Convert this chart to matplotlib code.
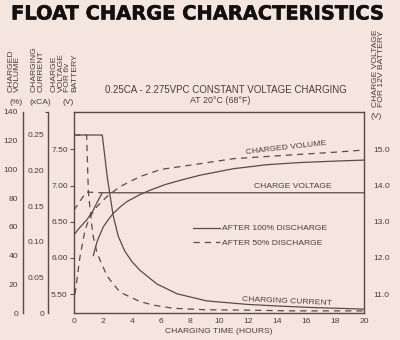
import matplotlib
matplotlib.use("Agg")
import matplotlib.pyplot as plt
import matplotlib.patheffects as pe
from matplotlib.lines import Line2D

# ---------------- data ----------------
hour_ticks = [0, 2, 4, 6, 8, 10, 12, 14, 16, 18, 20]
pct_ticks = [0, 20, 40, 60, 80, 100, 120, 140]
ca_ticks = [0, 0.05, 0.10, 0.15, 0.20, 0.25]
ca_labels = ["0", "0.05", "0.10", "0.15", "0.20", "0.25"]
v6_ticks = [5.5, 6.0, 6.5, 7.0, 7.5]
v6_labels = ["5.50", "6.00", "6.50", "7.00", "7.50"]
v12_ticks = [11.0, 12.0, 13.0, 14.0, 15.0]
v12_labels = ["11.0", "12.0", "13.0", "14.0", "15.0"]

# charging current (xCA)
t_cur_100 = [0, 1.95, 2.3, 2.7, 3.05, 3.5, 4.0, 4.55, 5.7, 7.1, 9.15, 12, 14.4, 16.7, 20]
cur_100 = [0.25, 0.25, 0.19, 0.137, 0.108, 0.087, 0.072, 0.06, 0.041, 0.027, 0.017, 0.012, 0.0095, 0.0075, 0.0055]
t_cur_50 = [0, 0.87, 0.99, 1.22, 1.33, 1.57, 1.8, 2.26, 2.5, 3.06, 3.4, 4.55, 5.5, 6.85, 9.15, 12, 15, 18, 20]
cur_50 = [0.25, 0.25, 0.17, 0.124, 0.107, 0.086, 0.074, 0.053, 0.046, 0.032, 0.027, 0.016, 0.011, 0.0066, 0.0045, 0.004, 0.003, 0.003, 0.003]

# charge voltage (V, 6V battery)
t_volt_100 = [0, 0.4, 0.9, 1.3, 1.6, 1.95, 20]
volt_100 = [6.32, 6.42, 6.53, 6.65, 6.77, 6.90, 6.90]
t_volt_50 = [0, 0.3, 0.6, 0.87, 1.95]
volt_50 = [6.66, 6.75, 6.84, 6.91, 6.90]

# charged volume (%)
t_vol_100 = [1.33, 1.6, 2.02, 2.4, 2.71, 3.2, 3.63, 4.55, 5.24, 6.3, 7.54, 8.7, 11, 13.3, 15.6, 18, 20]
vol_100 = [40, 50, 60, 65.5, 69.4, 74, 77.5, 82.5, 85.5, 89.5, 93, 96, 100.5, 103.3, 104.8, 105.8, 106.5]
t_vol_50 = [0.07, 0.41, 0.76, 1.1, 1.57, 2.26, 3.17, 4.55, 6.0, 8.7, 11, 13.3, 15.6, 18, 20]
vol_50 = [13, 39, 57.8, 67, 74, 81, 88, 95, 100, 104, 107.5, 109, 110.5, 112, 113.5]

# ---------------- style ----------------
BG = "#f4e6de"
LC = "#5a4a48"
TC = "#4a3c3a"
FONT = "Liberation Sans"
FS = 6.1
LW = 0.9
DASH = (0, (5, 4))

plt.rcParams["font.family"] = [FONT, "DejaVu Sans"]

fig = plt.figure(figsize=(4, 3.4), dpi=100, facecolor=BG)
ax = fig.add_axes([0.185, 0.0794, 0.725, 0.5912])
ax.set_facecolor(BG)
ax.set_xlim(0, 20)
ax.set_ylim(5.24, 8.015)
for s in ax.spines.values():
    s.set_color(LC)
    s.set_linewidth(1.0)
ax.set_xticks(hour_ticks)
ax.set_xticklabels([str(h) for h in hour_ticks], fontsize=FS, color=TC)
ax.tick_params(axis="x", length=0, pad=3.5)
ax.set_yticks(v6_ticks)
ax.set_yticklabels(v6_labels, fontsize=FS, color=TC)
ax.tick_params(axis="y", length=3, width=0.8, color=LC, pad=1.5, direction="out")
ax.set_xlabel("CHARGING TIME (HOURS)", fontsize=FS, color=TC, labelpad=2.5)

# percent axis
ax_pct = ax.twinx()
ax_pct.set_ylim(0, 140)
for k, s in ax_pct.spines.items():
    s.set_visible(False)
ax_pct.spines["left"].set_visible(True)
ax_pct.spines["left"].set_position(("axes", -0.176))
ax_pct.spines["left"].set_color(LC)
ax_pct.spines["left"].set_linewidth(1.0)
ax_pct.yaxis.set_ticks_position("left")
ax_pct.set_yticks(pct_ticks)
ax_pct.set_yticklabels([str(p) for p in pct_ticks], fontsize=FS, color=TC)
ax_pct.tick_params(axis="y", length=0, pad=3.5)
ax_pct.set_yticks([0, 140], minor=True)
ax_pct.tick_params(axis="y", which="minor", length=2.5, direction="in", color=LC, width=0.8)

# current axis
ax_ca = ax.twinx()
ax_ca.set_ylim(0, 0.2823)
for k, s in ax_ca.spines.items():
    s.set_visible(False)
ax_ca.spines["left"].set_visible(True)
ax_ca.spines["left"].set_position(("axes", -0.0897))
ax_ca.spines["left"].set_color(LC)
ax_ca.spines["left"].set_linewidth(1.0)
ax_ca.yaxis.set_ticks_position("left")
ax_ca.set_yticks(ca_ticks)
ax_ca.set_yticklabels(ca_labels, fontsize=FS, color=TC)
ax_ca.tick_params(axis="y", length=0, pad=2.5)
ax_ca.set_yticks([0, 0.2823], minor=True)
ax_ca.tick_params(axis="y", which="minor", length=2.5, direction="out", color=LC, width=0.8)

# 12V axis (right)
ax_12 = ax.twinx()
ax_12.set_ylim(2 * 5.24, 2 * 8.015)
for s in ax_12.spines.values():
    s.set_visible(False)
ax_12.set_yticks(v12_ticks)
ax_12.set_yticklabels(v12_labels, fontsize=FS, color=TC)
ax_12.tick_params(axis="y", length=0, pad=7)

# ---------------- curves ----------------
ax_ca.plot(t_cur_100, cur_100, color=LC, lw=LW, solid_joinstyle="round")
ax_ca.plot(t_cur_50, cur_50, color=LC, lw=LW, linestyle=DASH)
ax.plot(t_volt_100, volt_100, color=LC, lw=LW)
ax.plot(t_volt_50, volt_50, color=LC, lw=LW, linestyle=DASH)
ax_pct.plot(t_vol_100, vol_100, color=LC, lw=LW)
ax_pct.plot(t_vol_50, vol_50, color=LC, lw=LW, linestyle=DASH)

# curve labels
ax_pct.text(14.6, 114.8, "CHARGED VOLUME", fontsize=FS, color=TC, rotation=6.5,
            ha="center", va="center")
ax.text(15.1, 6.99, "CHARGE VOLTAGE", fontsize=FS, color=TC, ha="center", va="center")
ax_ca.text(14.7, 0.0168, "CHARGING CURRENT", fontsize=FS, color=TC, rotation=-2.5,
           ha="center", va="center")

# legend
handles = [Line2D([], [], color=LC, lw=LW),
           Line2D([], [], color=LC, lw=LW, linestyle=DASH)]
leg = ax_pct.legend(handles, ["AFTER 100% DISCHARGE", "AFTER 50% DISCHARGE"],
                    loc="upper left", bbox_to_anchor=(0.41, 0.44), frameon=False,
                    fontsize=FS, handlelength=3.2, handletextpad=0.25,
                    labelspacing=0.72, borderpad=0, borderaxespad=0)
for txt in leg.get_texts():
    txt.set_color(TC)

# ---------------- titles / headings ----------------
fig.text(0.495, 1 - 14 / 340, "FLOAT CHARGE CHARACTERISTICS", ha="center", va="center",
         fontsize=14, fontweight="bold", family="DejaVu Sans", color="#141010",
         path_effects=[pe.withStroke(linewidth=0.4, foreground="#141010")])
fig.text(225.5 / 400, 1 - 90 / 340, "0.25CA - 2.275VPC CONSTANT VOLTAGE CHARGING",
         ha="center", va="center", fontsize=7.0, color=TC)
fig.text(220 / 400, 1 - 100.5 / 340, "AT 20°C (68°F)",
         ha="center", va="center", fontsize=6.4, color=TC)

ybot = 1 - 92 / 340
fig.text(14.5 / 400, ybot, "CHARGED\nVOLUME", rotation=90, ha="center", va="bottom",
         multialignment="left", fontsize=FS, color=TC, linespacing=0.95)
fig.text(37.5 / 400, ybot, "CHARGING\nCURRENT", rotation=90, ha="center", va="bottom",
         multialignment="left", fontsize=FS, color=TC, linespacing=0.95)
fig.text(64.5 / 400, ybot, "CHARGE\nVOLTAGE\nFOR 6v\nBATTERY", rotation=90, ha="center",
         va="bottom", multialignment="left", fontsize=FS, color=TC, linespacing=0.95)
yu = 1 - 102 / 340
fig.text(16 / 400, yu, "(%)", ha="center", va="center", fontsize=FS, color=TC)
fig.text(40 / 400, yu, "(xCA)", ha="center", va="center", fontsize=FS, color=TC)
fig.text(68.5 / 400, yu, "(V)", ha="center", va="center", fontsize=FS, color=TC)

fig.text(378.5 / 400, 1 - 107 / 340, "CHARGE VOLTAGE\nFOR 12V BATTERY", rotation=90,
         ha="center", va="bottom", multialignment="left", fontsize=FS, color=TC,
         linespacing=0.95)
fig.text(376 / 400, 1 - 117 / 340, "(V)", ha="center", va="center", fontsize=FS, color=TC)

fig.savefig("out.png", dpi=100, facecolor=BG)
